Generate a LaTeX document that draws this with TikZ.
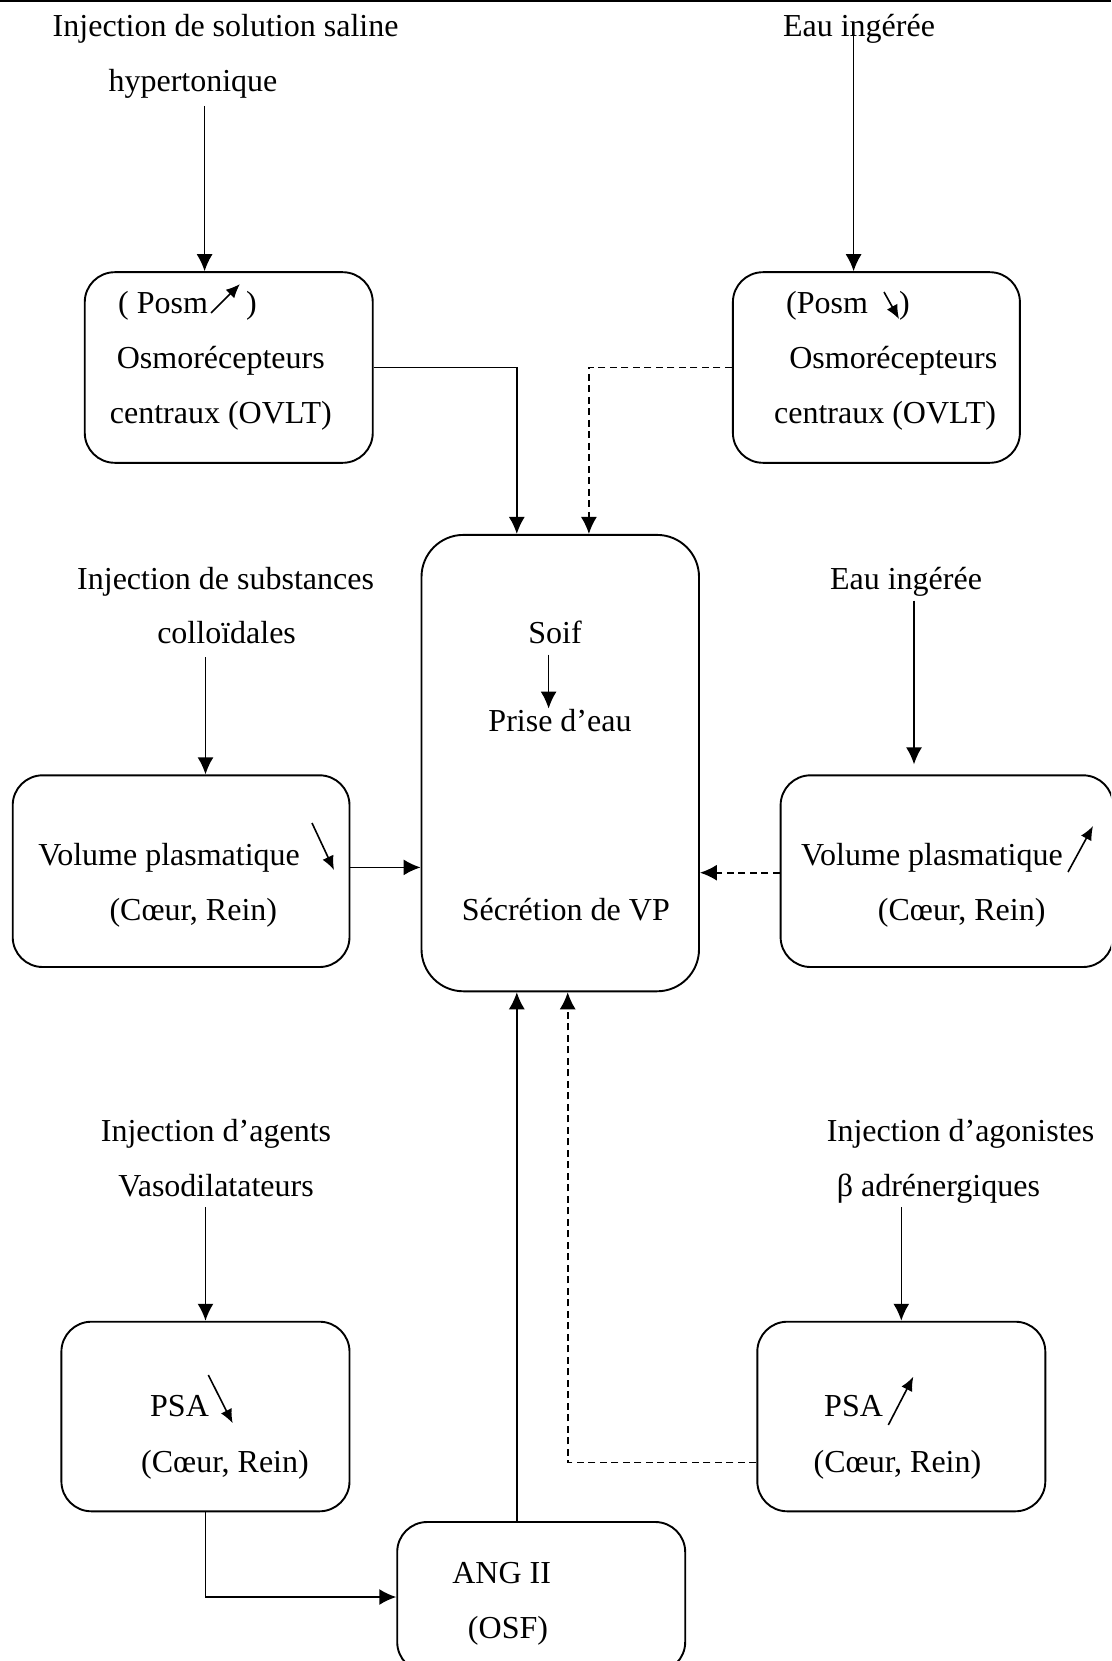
\documentclass[tikz,border=0pt]{standalone}
\usepackage{fontspec}
\setmainfont{Liberation Serif}
\usetikzlibrary{arrows.meta}
\begin{document}
\begin{tikzpicture}[x=1pt,y=-1pt,
  font=\fontsize{32pt}{38pt}\selectfont,
  box/.style={draw, line width=1.9pt, rounded corners=30pt, inner sep=0pt},
  txt/.style={anchor=base, inner sep=0pt},
  txtw/.style={anchor=base west, inner sep=0pt},
  conn/.style={line width=1.6pt, -{Latex[length=17pt,width=16pt]}},
  dconn/.style={conn, dash pattern=on 7pt off 4.5pt},
  mini/.style={line width=1.6pt, -{Latex[length=14pt,width=12pt]}}]
\clip (0,0) rectangle (1111,1661);
% top rule
\draw[line width=1.8pt] (0,1) -- (1111,1);

% boxes
\node[box, minimum width=288pt, minimum height=190.6pt] (osmL) at (228.75,367.5) {};
\node[box, minimum width=287pt, minimum height=190.6pt] (osmR) at (876.4,367.5) {};
\node[box, rounded corners=42pt, minimum width=277.5pt, minimum height=456.4pt] (ctr) at (560.25,763.1) {};
\node[box, minimum width=336.8pt, minimum height=191.7pt] (vpL) at (181.1,871.15) {};
\node[box, minimum width=332.4pt, minimum height=191.7pt] (vpR) at (946.8,871.15) {};
\node[box, minimum width=288.1pt, minimum height=189.6pt] (psaL) at (205.45,1416.5) {};
\node[box, minimum width=288pt, minimum height=189.6pt] (psaR) at (901.3,1416.5) {};
\node[box, minimum width=288pt, minimum height=150pt] (ang) at (541.2,1597) {};

% top texts
\node[txt] (t1) at (225.6,37) {Injection de solution saline};
\node[txt] (t2) at (193,92) {hypertonique};
\node[txt] (t3) at (859,37) {Eau ingérée};

% osmL texts
\node[txtw] (pL) at (118,313) {( Posm};
\node[txtw] (pLc) at (246,313) {)};
\draw[mini] (211,313) -- (240,284);
\node[txt] (oL) at (220.8,368) {Osmorécepteurs};
\node[txt] (cL) at (220.8,423) {centraux (OVLT)};

% osmR texts
\node[txtw] (pR) at (786,313) {(Posm};
\node[txtw] (pRc) at (899,313) {)};
\draw[mini] (884,292) -- (899,319);
\node[txt] (oR) at (893.3,368) {Osmorécepteurs};
\node[txt] (cR) at (885,423) {centraux (OVLT)};

% centre texts
\node[txt] (soif) at (555,643) {Soif};
\node[txt] (prise) at (560,731) {Prise d’eau};
\node[txt] (secr) at (565.8,920) {Sécrétion de VP};
\draw[conn] (soif.south |- 0,654.5) ++(-6.4,0) coordinate (sa) -- (sa |- prise.north);

% middle texts
\node[txt] (t4) at (225.6,589) {Injection de substances};
\node[txt] (t5) at (226.6,643) {colloïdales};
\node[txt] (t6) at (906,589) {Eau ingérée};
\node[txtw] (vL) at (38.1,865) {Volume plasmatique};
\draw[mini] (312,823) -- (334,870);
\node[txt] (cvL) at (193.3,920) {(Cœur, Rein)};
\node[txtw] (vR) at (801,865) {Volume plasmatique};
\draw[mini] (1068,872) -- (1093,826);
\node[txt] (cvR) at (961.7,920) {(Cœur, Rein)};

% bottom texts
\node[txt] (t7) at (216,1141) {Injection d’agents};
\node[txt] (t8) at (216,1196) {Vasodilatateurs};
\node[txt] (t9) at (960.6,1141) {Injection d’agonistes};
\node[txt] (t10) at (938.4,1196) {β adrénergiques};
\node[txtw] (psL) at (150,1416.5) {PSA};
\draw[mini] (208.3,1375) -- (232.7,1423.3);
\node[txt] (cpL) at (225,1472.6) {(Cœur, Rein)};
\node[txtw] (psR) at (824,1416.5) {PSA};
\draw[mini] (888.3,1425) -- (913.3,1376.7);
\node[txt] (cpR) at (897.5,1472.6) {(Cœur, Rein)};
\node[txt] (angt) at (501.7,1583) {ANG II};
\node[txt] (osf) at (508,1638) {(OSF)};

% connector helper coordinates
\coordinate (s1) at (204.6,106);
\coordinate (s2) at (853.6,33);
\coordinate (s3) at (205.5,657);
\coordinate (s4) at (914,600.5);
\coordinate (s5) at (205.5,1207.4);
\coordinate (s6) at (901.3,1207);
\coordinate (xa) at (516.8,0);
\coordinate (xb) at (588.9,0);
\coordinate (xc) at (567.7,0);
\coordinate (ya) at (0,867.4);
\coordinate (yb) at (0,872.7);
\coordinate (yc) at (0,1462.6);

% connectors
\draw[conn] (s1) -- (s1 |- osmL.north);
\draw[conn] (s2) -- (s2 |- osmR.north);
\draw[conn] (osmL.east) -| (xa |- ctr.north);
\draw[dconn] (osmR.west) -| (xb |- ctr.north);
\draw[conn] (s3) -- (s3 |- vpL.north);
\draw[conn, shorten >=10pt] (s4) -- (s4 |- vpR.north);
\draw[conn] (vpL.east |- ya) -- (ctr.west |- ya);
\draw[dconn] (vpR.west |- yb) -- (ctr.east |- yb);
\draw[conn] (s5) -- (s5 |- psaL.north);
\draw[conn] (s6) -- (s6 |- psaR.north);
\draw[conn] (psaL.south) |- (ang.west);
\draw[conn] (xa |- ang.north) -- (xa |- ctr.south);
\draw[dconn] (psaR.west |- yc) -| (xc |- ctr.south);
\end{tikzpicture}
\end{document}
